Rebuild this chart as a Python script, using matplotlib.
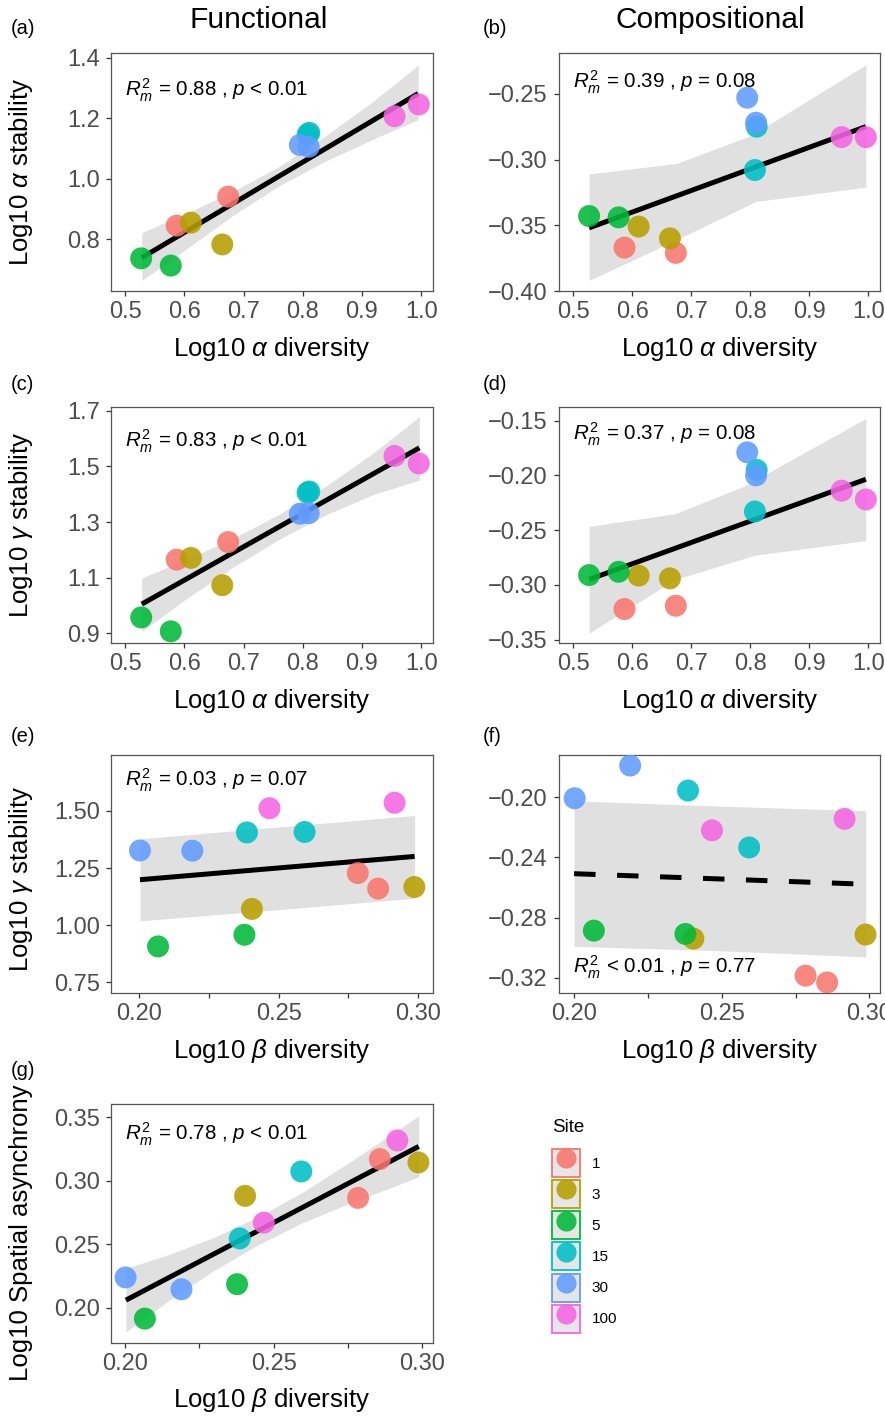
import matplotlib
matplotlib.use("Agg")
import matplotlib.pyplot as plt
from matplotlib.patches import Patch
from matplotlib.lines import Line2D
from matplotlib.legend_handler import HandlerTuple

plt.rcParams['font.family'] = ['Liberation Sans', 'DejaVu Sans']
plt.rcParams['mathtext.fontset'] = 'custom'
plt.rcParams['mathtext.rm'] = 'Liberation Sans'
plt.rcParams['mathtext.it'] = 'Liberation Sans:italic'
plt.rcParams['mathtext.bf'] = 'Liberation Sans:bold'
plt.rcParams['mathtext.sf'] = 'Liberation Sans'

# ---------------- data ----------------
sites = ['1', '1', '3', '3', '5', '5', '15', '15', '30', '30', '100', '100']
site_levels = ['1', '3', '5', '15', '30', '100']
site_colors = ['#F8766D', '#B79F00', '#00BA38', '#00BFC4', '#619CFF', '#F564E3']

alpha_div = [0.587, 0.674, 0.611, 0.664, 0.527, 0.577, 0.811, 0.808, 0.795, 0.810, 0.955, 0.996]
beta_div = [0.2784, 0.2857, 0.2404, 0.2987, 0.2067, 0.2377, 0.2386, 0.2593, 0.2002, 0.2190, 0.2467, 0.2916]

a_func_alpha_stab = [0.845, 0.941, 0.855, 0.783, 0.737, 0.713, 1.152, 1.146, 1.112, 1.106, 1.207, 1.246]
b_comp_alpha_stab = [-0.367, -0.371, -0.351, -0.360, -0.343, -0.344, -0.275, -0.308, -0.253, -0.272, -0.283, -0.283]
c_func_gamma_stab = [1.165, 1.228, 1.171, 1.073, 0.957, 0.907, 1.410, 1.406, 1.330, 1.332, 1.538, 1.511]
d_comp_gamma_stab = [-0.322, -0.319, -0.2915, -0.294, -0.291, -0.288, -0.195, -0.233, -0.179, -0.200, -0.214, -0.222]
e_func_gamma_stab = [1.228, 1.160, 1.071, 1.167, 0.907, 0.958, 1.406, 1.408, 1.327, 1.326, 1.512, 1.536]
f_comp_gamma_stab = [-0.3185, -0.323, -0.2939, -0.2912, -0.2886, -0.2908, -0.1956, -0.2334, -0.2007, -0.179, -0.222, -0.2144]
g_spatial_async = [0.2866, 0.3171, 0.2882, 0.3145, 0.1916, 0.2187, 0.2547, 0.3074, 0.224, 0.2147, 0.2671, 0.3318]

# fitted lines (x0, x1) and (y0, y1)
a_fit_x = [0.528, 0.995]; a_fit_y = [0.739, 1.282]
b_fit_x = [0.527, 0.996]; b_fit_y = [-0.352, -0.275]
c_fit_x = [0.528, 0.997]; c_fit_y = [1.005, 1.567]
d_fit_x = [0.527, 0.996]; d_fit_y = [-0.295, -0.2036]
e_fit_x = [0.2002, 0.2988]; e_fit_y = [1.199, 1.301]
f_fit_x = [0.2000, 0.2988]; f_fit_y = [-0.2508, -0.2578]
g_fit_x = [0.2003, 0.2988]; g_fit_y = [0.2061, 0.3271]

# confidence ribbons
a_rib_x = [0.528, 0.60, 0.68, 0.76, 0.84, 0.92, 0.995]
a_rib_lo = [0.664, 0.763, 0.876, 0.977, 1.060, 1.132, 1.196]
a_rib_hi = [0.822, 0.883, 0.956, 1.041, 1.144, 1.258, 1.376]
b_rib_x = [0.527, 0.675, 0.80, 0.808, 0.996]
b_rib_lo = [-0.392, -0.361, -0.334, -0.332, -0.321]
b_rib_hi = [-0.311, -0.303, -0.282, -0.280, -0.228]
c_rib_x = [0.528, 0.60, 0.68, 0.76, 0.84, 0.92, 0.997]
c_rib_lo = [0.907, 1.019, 1.135, 1.238, 1.327, 1.400, 1.451]
c_rib_hi = [1.099, 1.163, 1.239, 1.328, 1.431, 1.550, 1.679]
d_rib_x = [0.527, 0.673, 0.789, 0.806, 0.996]
d_rib_lo = [-0.344, -0.295, -0.276, -0.273, -0.2595]
d_rib_hi = [-0.2465, -0.235, -0.210, -0.205, -0.148]
e_rib_x = [0.2002, 0.25, 0.2988]
e_rib_lo = [1.019, 1.068, 1.118]
e_rib_hi = [1.378, 1.430, 1.480]
f_rib_x = [0.2000, 0.25, 0.2988]
f_rib_lo = [-0.299, -0.302, -0.306]
f_rib_hi = [-0.2024, -0.206, -0.209]
g_rib_x = [0.2003, 0.215, 0.23, 0.245, 0.26, 0.275, 0.2988]
g_rib_lo = [0.1811, 0.2062, 0.2296, 0.2500, 0.2674, 0.2818, 0.3031]
g_rib_hi = [0.2311, 0.2422, 0.2556, 0.2720, 0.2914, 0.3138, 0.3511]

a_ticks_y = [0.8, 1.0, 1.2, 1.4]
b_ticks_y = [-0.40, -0.35, -0.30, -0.25]
c_ticks_y = [0.9, 1.1, 1.3, 1.5, 1.7]
d_ticks_y = [-0.35, -0.30, -0.25, -0.20, -0.15]
e_ticks_y = [0.75, 1.00, 1.25, 1.50]
f_ticks_y = [-0.32, -0.28, -0.24, -0.20]
g_ticks_y = [0.20, 0.25, 0.30, 0.35]
alpha_ticks_x = [0.5, 0.6, 0.7, 0.8, 0.9, 1.0]
alpha_ticklabels_x = ['0.5', '0.6', '0.7', '0.8', '0.9', '1.0']
beta_ticks_x = [0.20, 0.225, 0.25, 0.275, 0.30]
beta_ticklabels_x = ['0.20', '', '0.25', '', '0.30']

stats_text = {
    'a': r'$R^2_m$ = 0.88 , $p$ < 0.01',
    'b': r'$R^2_m$ = 0.39 , $p$ = 0.08',
    'c': r'$R^2_m$ = 0.83 , $p$ < 0.01',
    'd': r'$R^2_m$ = 0.37 , $p$ = 0.08',
    'e': r'$R^2_m$ = 0.03 , $p$ = 0.07',
    'f': r'$R^2_m$ < 0.01 , $p$ = 0.77',
    'g': r'$R^2_m$ = 0.78 , $p$ < 0.01',
}

# ---------------- figure ----------------
W, H = 885, 1418
fig = plt.figure(figsize=(W / 100, H / 100), dpi=100)

def px_axes(left, top, right, bottom):
    return fig.add_axes([left / W, 1 - bottom / H, (right - left) / W, (bottom - top) / H])

color_map = dict(zip(site_levels, site_colors))
pt_colors = [color_map[s] for s in sites]

def panel(ax, x, y, fx, fy, rx, rlo, rhi, xlim, ylim, xt, xtl, yt, yfmt,
          txt, txt_pos, dashed=False):
    ax.fill_between(rx, rlo, rhi, color='#E0E0E0', lw=0, zorder=1)
    ls = (0, (4.3, 4.3)) if dashed else '-'
    ax.plot(fx, fy, color='black', lw=3.6, ls=ls, solid_capstyle='butt',
            dash_capstyle='butt', zorder=2)
    ax.scatter(x, y, c=pt_colors, s=250, alpha=0.88, edgecolors='none', zorder=3)
    ax.set_xlim(*xlim)
    ax.set_ylim(*ylim)
    ax.set_xticks(xt)
    ax.set_xticklabels(xtl)
    ax.set_yticks(yt)
    ax.set_yticklabels([yfmt.format(v).replace('-', '\u2212') for v in yt])
    for sp in ax.spines.values():
        sp.set_color('#555555')
        sp.set_linewidth(0.9)
    ax.tick_params(axis='both', direction='out', length=3.6, width=0.9,
                   color='#333333', labelcolor='#4D4D4D', labelsize=17)
    ax.tick_params(axis='x', pad=3.5)
    ax.tick_params(axis='y', pad=4.5)
    ax.text(txt_pos[0], txt_pos[1], txt, transform=ax.transAxes, ha='left',
            va='center', fontsize=14.8, color='black')

LX0, LX1 = 111, 433
RX0, RX1 = 559, 880
rows = [(53, 291), (407, 643), (755, 993), (1104, 1343)]
alpha_lim = (0.476, 1.02)

axa = px_axes(LX0, rows[0][0], LX1, rows[0][1])
panel(axa, alpha_div, a_func_alpha_stab, a_fit_x, a_fit_y, a_rib_x, a_rib_lo, a_rib_hi,
      alpha_lim, (0.629, 1.416), alpha_ticks_x, alpha_ticklabels_x, a_ticks_y, '{:.1f}',
      stats_text['a'], (0.045, 0.845))
axb = px_axes(RX0, rows[0][0], RX1, rows[0][1])
panel(axb, alpha_div, b_comp_alpha_stab, b_fit_x, b_fit_y, b_rib_x, b_rib_lo, b_rib_hi,
      alpha_lim, (-0.40, -0.219), alpha_ticks_x, alpha_ticklabels_x, b_ticks_y, '{:.2f}',
      stats_text['b'], (0.045, 0.875))
axc = px_axes(LX0, rows[1][0], LX1, rows[1][1])
panel(axc, alpha_div, c_func_gamma_stab, c_fit_x, c_fit_y, c_rib_x, c_rib_lo, c_rib_hi,
      alpha_lim, (0.865, 1.714), alpha_ticks_x, alpha_ticklabels_x, c_ticks_y, '{:.1f}',
      stats_text['c'], (0.045, 0.855))
axd = px_axes(RX0, rows[1][0], RX1, rows[1][1])
panel(axd, alpha_div, d_comp_gamma_stab, d_fit_x, d_fit_y, d_rib_x, d_rib_lo, d_rib_hi,
      alpha_lim, (-0.353, -0.1376), alpha_ticks_x, alpha_ticklabels_x, d_ticks_y, '{:.2f}',
      stats_text['d'], (0.045, 0.885))
axe = px_axes(LX0, rows[2][0], LX1, rows[2][1])
panel(axe, beta_div, e_func_gamma_stab, e_fit_x, e_fit_y, e_rib_x, e_rib_lo, e_rib_hi,
      (0.1898, 0.3054), (0.703, 1.745), beta_ticks_x, beta_ticklabels_x, e_ticks_y, '{:.2f}',
      stats_text['e'], (0.045, 0.895))
axf = px_axes(RX0, rows[2][0], RX1, rows[2][1])
panel(axf, beta_div, f_comp_gamma_stab, f_fit_x, f_fit_y, f_rib_x, f_rib_lo, f_rib_hi,
      (0.1949, 0.3036), (-0.330, -0.172), beta_ticks_x, beta_ticklabels_x, f_ticks_y, '{:.2f}',
      stats_text['f'], (0.045, 0.11), dashed=True)
axg = px_axes(LX0, rows[3][0], LX1, rows[3][1])
panel(axg, beta_div, g_spatial_async, g_fit_x, g_fit_y, g_rib_x, g_rib_lo, g_rib_hi,
      (0.1953, 0.3036), (0.1724, 0.3605), beta_ticks_x, beta_ticklabels_x, g_ticks_y, '{:.2f}',
      stats_text['g'], (0.045, 0.875))

# axis labels
xlab_alpha = r'Log10 $\alpha$ diversity'
xlab_beta = r'Log10 $\beta$ diversity'
for ax, lab, off in [(axa, xlab_alpha, 58), (axb, xlab_alpha, 58), (axc, xlab_alpha, 58),
                     (axd, xlab_alpha, 58), (axe, xlab_beta, 58), (axf, xlab_beta, 58),
                     (axg, xlab_beta, 57)]:
    ax.set_xlabel(lab, fontsize=18.5, color='black', va='center')
    h = ax.get_position().height * H
    ax.xaxis.set_label_coords(0.5, -off / h)

ylabs = [(axa, r'Log10 $\alpha$ stability', 0.5), (axc, r'Log10 $\gamma$ stability', 0.5),
         (axe, r'Log10 $\gamma$ stability', 0.48), (axg, 'Log10 Spatial asynchrony', 0.46)]
for ax, lab, yc in ylabs:
    ax.set_ylabel(lab, fontsize=18.5, color='black', va='center')
    w = ax.get_position().width * W
    ax.yaxis.set_label_coords(-(LX0 - 21) / w, yc)

# column titles
fig.text(259 / W, 1 - 20 / H, 'Functional', ha='center', va='center', fontsize=21.5)
fig.text(710 / W, 1 - 20 / H, 'Compositional', ha='center', va='center', fontsize=21.5)

# panel tags
tags = [('(a)', 11, 29), ('(b)', 483, 29), ('(c)', 11, 385), ('(d)', 483, 385),
        ('(e)', 11, 737), ('(f)', 483, 737), ('(g)', 11, 1071)]
for t, x, y in tags:
    fig.text(x / W, 1 - y / H, t, ha='left', va='center', fontsize=14.5)

# legend
fig.text(552 / W, 1 - 1128 / H, 'Site', ha='left', va='center', fontsize=13.5)
handles = []
for col in site_colors:
    handles.append((Patch(facecolor='#E6E6E6', edgecolor=col, lw=1.3),
                    Line2D([], [], marker='o', color=col, ls='', markersize=14.5,
                           markeredgewidth=0, alpha=0.88)))
leg = fig.legend(handles, site_levels, handler_map={tuple: HandlerTuple(ndivide=1, pad=0)},
                 loc='upper left', bbox_to_anchor=(552 / W, 1 - 1149 / H),
                 frameon=False, fontsize=11,
                 handlelength=1.83, handleheight=2.45, labelspacing=0.2,
                 handletextpad=0.75, borderpad=0, borderaxespad=0)

fig.savefig('out.png', dpi=100)
